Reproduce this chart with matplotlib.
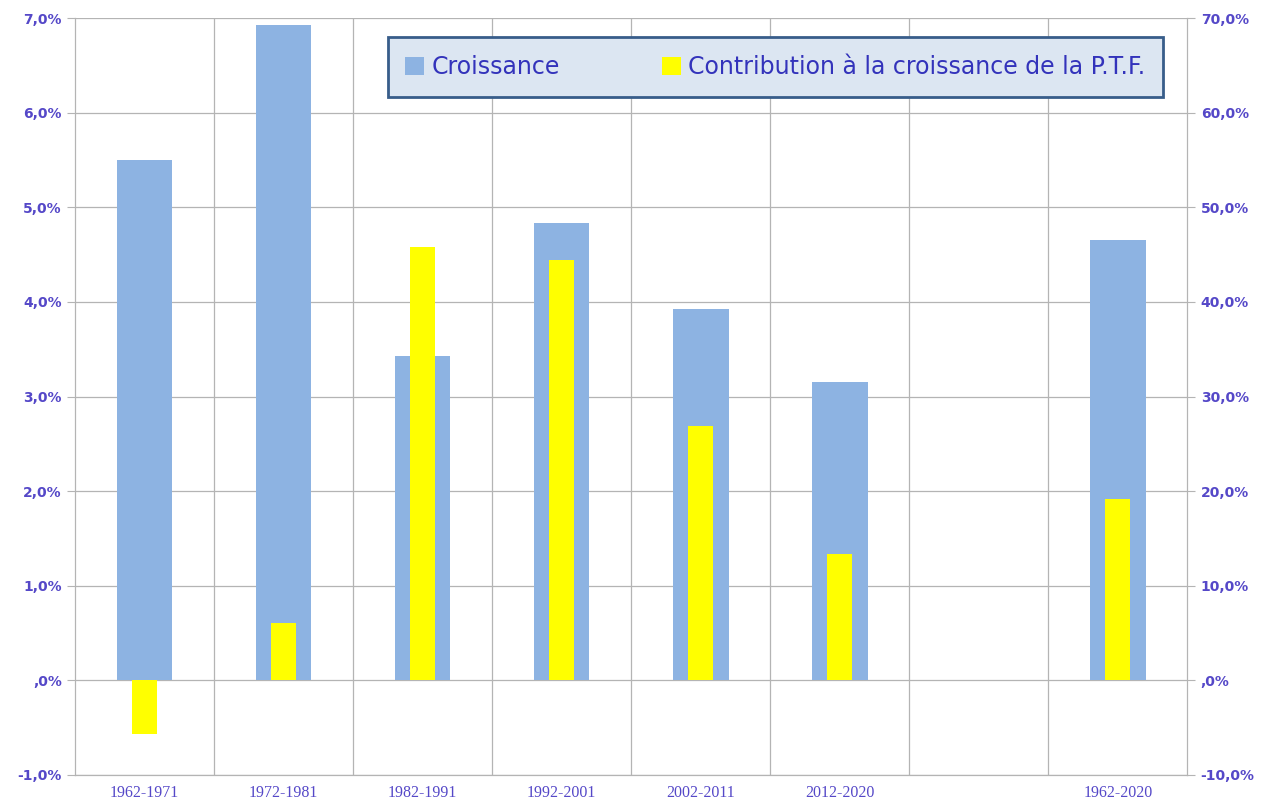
import numpy as np
import matplotlib.pyplot as plt
from matplotlib.ticker import FuncFormatter

# Périodes (la 7e colonne est vide)
periodes = ['1962-1971', '1972-1981', '1982-1991', '1992-2001', '2002-2011', '2012-2020', '', '1962-2020']
croissance = [5.50, 6.93, 3.43, 4.83, 3.92, 3.15, np.nan, 4.65]          # % axe gauche
contribution_ptf = [-5.7, 6.1, 45.8, 44.4, 26.9, 13.4, np.nan, 19.2]    # % axe droit

bleu = '#8db3e2'
jaune = '#ffff00'
texte = '#5548c8'
grille = '#b4b4b4'

def fmt_pct(v, pos):
    s = f'{v:.1f}'.replace('.', ',')
    if s.startswith('0,'):
        s = s[1:]
    elif s.startswith('-0,'):
        s = '-' + s[2:]
    return s + '%'

fig = plt.figure(figsize=(12.7, 8.05), dpi=100)
ax = fig.add_axes([0.059, 0.0373, 0.876, 0.9403])
ax2 = ax.twinx()

x = np.arange(len(periodes))
ax.bar(x, croissance, width=0.4, color=bleu, zorder=3, label='Croissance')
ax2.bar(x, contribution_ptf, width=0.18, color=jaune, zorder=3,
        label='Contribution à la croissance de la P.T.F.')

ax.set_xlim(-0.5, len(periodes) - 0.5)
ax.set_ylim(-1, 7)
ax2.set_ylim(-10, 70)
ax.set_yticks(np.arange(-1, 8, 1))
ax2.set_yticks(np.arange(-10, 80, 10))
ax.yaxis.set_major_formatter(FuncFormatter(fmt_pct))
ax2.yaxis.set_major_formatter(FuncFormatter(fmt_pct))

# grille : lignes horizontales + séparations entre périodes
for v in np.arange(-1, 8, 1):
    ax.axhline(v, color=grille, lw=0.9, zorder=1)
for b in np.arange(0.5, len(periodes) - 0.5, 1):
    ax.axvline(b, color=grille, lw=0.9, zorder=1)

ax.set_xticks(x)
ax.set_xticklabels(periodes, fontsize=11.5, family='Liberation Serif', color=texte)
ax.tick_params(axis='x', length=0, pad=7)
ax.tick_params(axis='y', length=6, color=grille, labelsize=10, labelcolor=texte)
ax2.tick_params(axis='y', length=6, color=grille, labelsize=10, labelcolor=texte)
for t in ax.get_yticklabels() + ax2.get_yticklabels():
    t.set_fontweight('bold')

for a in (ax, ax2):
    for s in a.spines.values():
        s.set_color(grille)
    a.spines['top'].set_visible(False)

ax.set_zorder(ax2.get_zorder() - 1)
ax2.patch.set_visible(False)

h1, l1 = ax.get_legend_handles_labels()
h2, l2 = ax2.get_legend_handles_labels()
leg = ax2.legend(h1 + h2, l1 + l2, ncol=2, loc='lower left',
                 bbox_to_anchor=(0.281, 0.896, 0.697, 0.084), mode='expand',
                 fontsize=17, frameon=True, fancybox=False,
                 handlelength=0.8, handleheight=0.8, handletextpad=0.3,
                 columnspacing=1.5, borderpad=0.75, borderaxespad=0)
leg.get_frame().set_facecolor('#dce6f2')
leg.get_frame().set_edgecolor('#385d8a')
leg.get_frame().set_linewidth(2)
leg.get_frame().set_alpha(1)
for t in leg.get_texts():
    t.set_color('#3333bb')

fig.savefig('out.png', dpi=100)
